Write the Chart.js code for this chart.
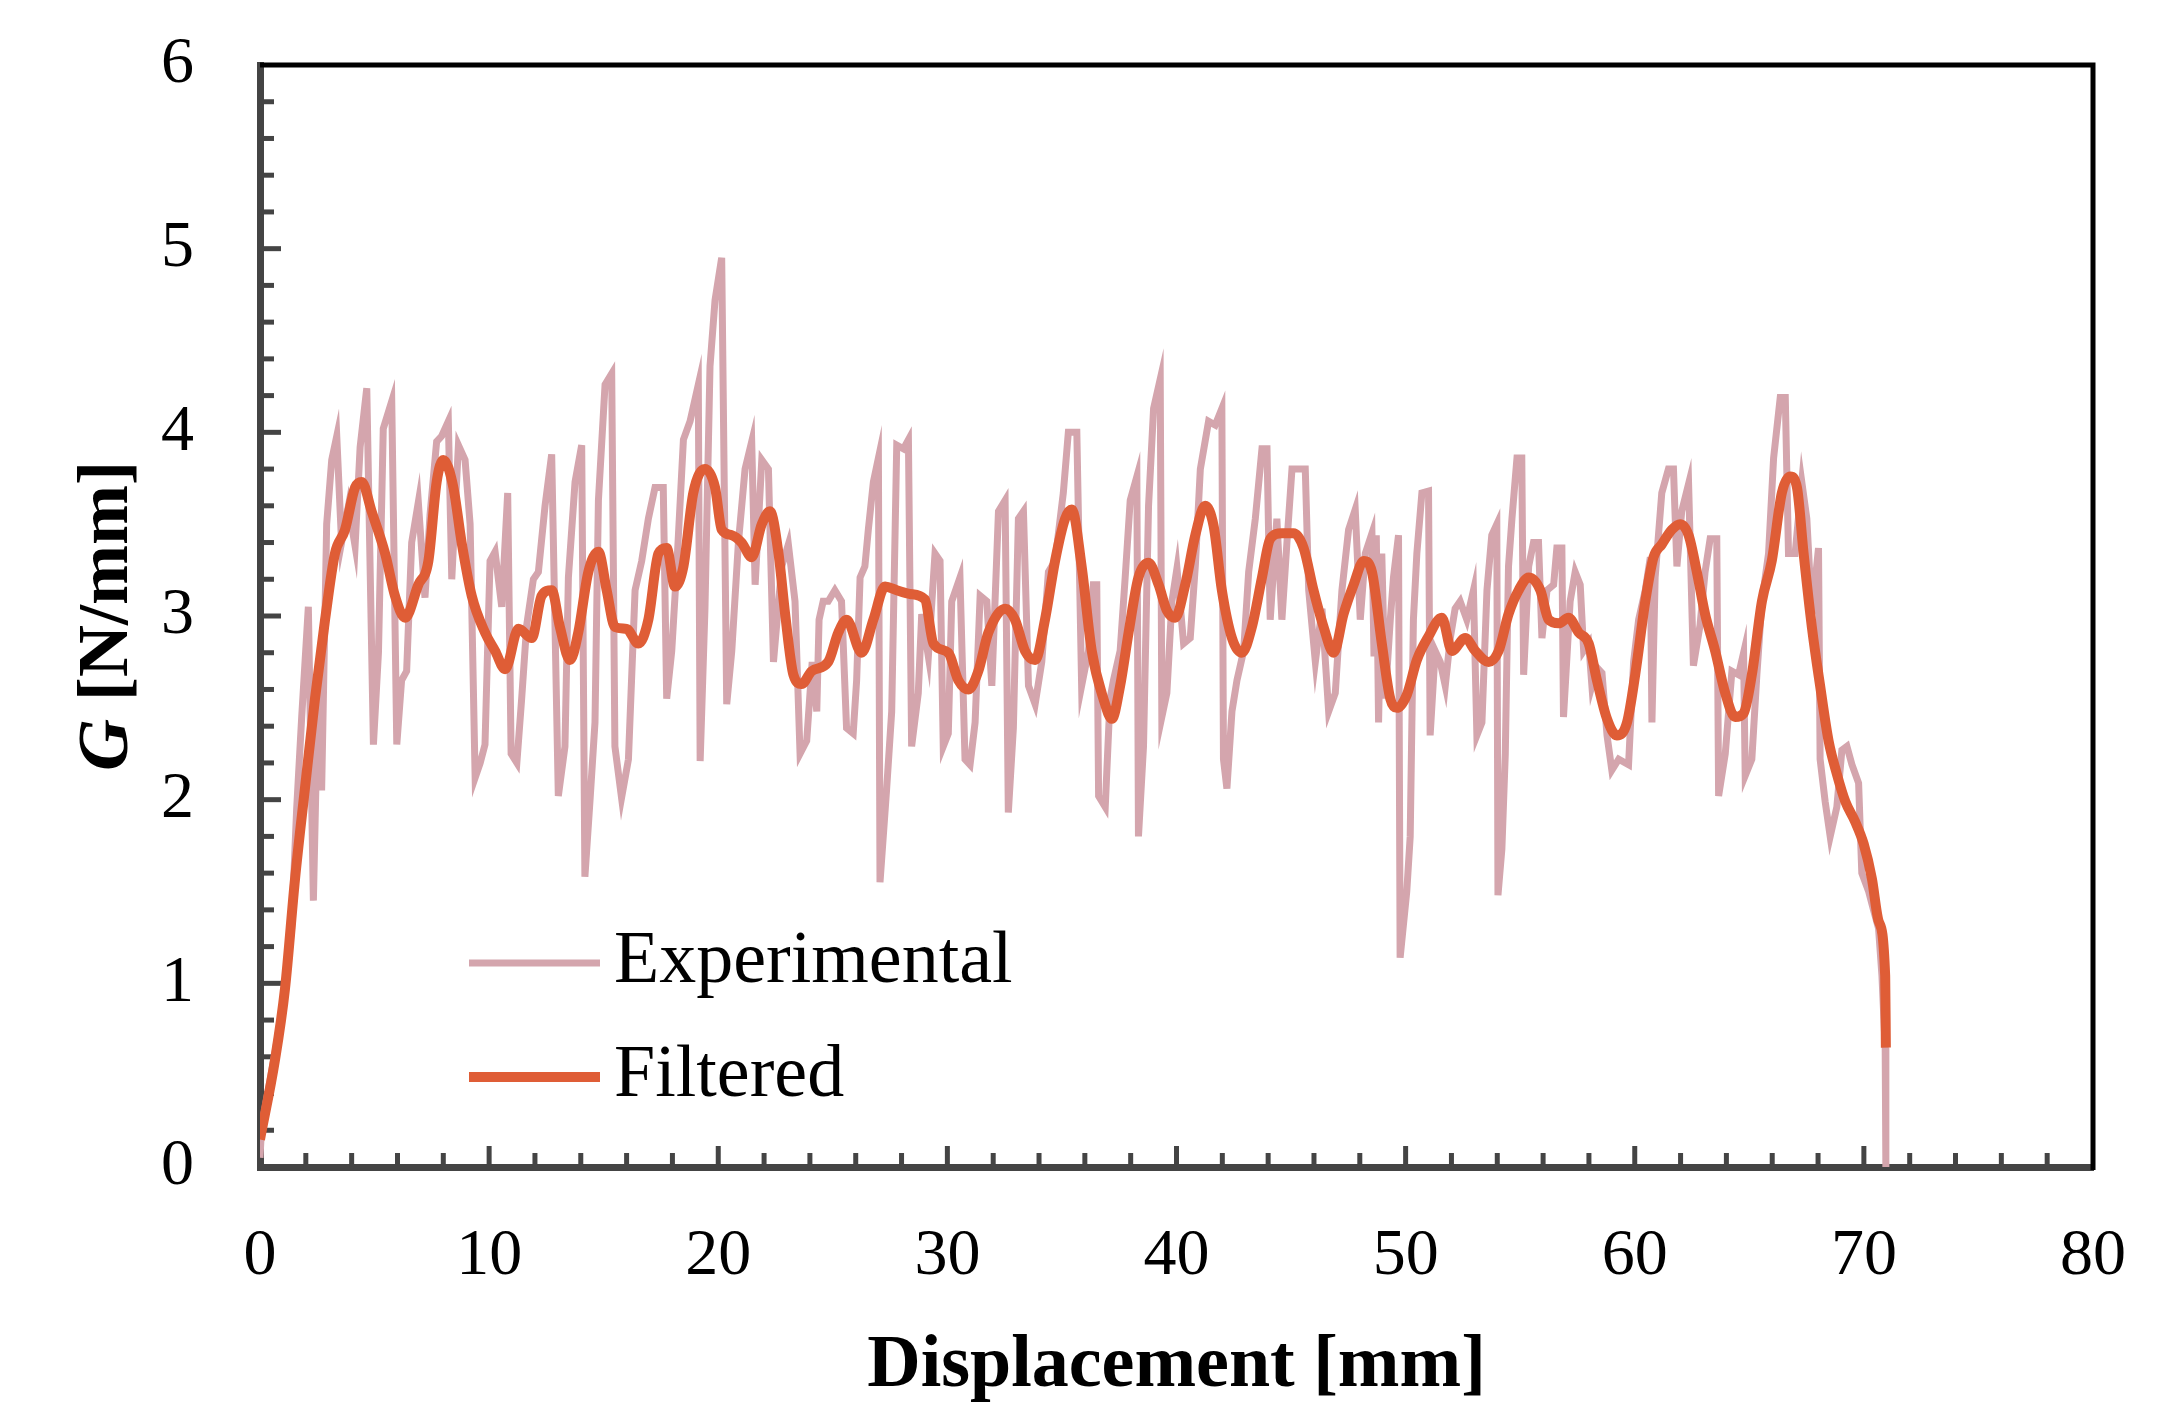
<!DOCTYPE html>
<html><head><meta charset="utf-8">
<script src="https://cdn.jsdelivr.net/npm/chart.js@4.4.1/dist/chart.umd.min.js"></script>
<style>html,body{margin:0;padding:0;background:#fff;} #wrap{width:2178px;height:1404px;}</style>
</head><body><div id="wrap"><canvas id="c" width="2178" height="1404"></canvas></div>
<script>
const xLabel = 'Displacement [mm]';
const yLabelItalic = 'G';
const yLabelRest = ' [N/mm]';
const seriesNames = ['Experimental', 'Filtered'];
const xRange = [0, 80];
const yRange = [0, 6];
const xMajorStep = 10, xMinorStep = 2, yMajorStep = 1, yMinorStep = 0.2;

const expX = [
0.00,0.07,0.65,1.09,1.38,1.60,1.82,2.11,2.33,2.55,2.69,2.91,3.13,3.35,3.56,3.86,4.15,4.37,4.66,4.95,5.17,5.38,5.75,5.97,6.18,6.40,6.62,6.91,7.20,7.42,7.71,7.93,8.22,8.37,8.66,8.95,9.17,9.39,9.61,9.82,10.04,10.26,10.55,10.81,10.96,11.21,11.42,11.64,11.93,
12.15,12.44,12.73,13.02,13.31,13.46,13.75,14.04,14.18,14.40,14.62,14.77,15.06,15.35,15.49,15.78,16.08,16.37,16.66,16.95,17.24,17.60,17.75,17.97,18.19,18.48,18.77,19.13,19.21,19.42,19.64,19.86,20.15,20.37,20.59,20.88,21.17,21.46,21.61,21.90,22.19,22.41,22.77,23.06,23.35,23.57,23.86,24.10,
24.30,24.40,24.58,24.80,25.09,25.38,25.60,25.89,26.04,26.19,26.40,26.55,26.77,26.99,27.06,27.35,27.57,27.79,28.08,28.30,28.44,28.73,28.88,29.17,29.46,29.68,29.82,30.04,30.19,30.55,30.77,30.99,31.21,31.43,31.72,31.94,32.23,32.52,32.66,32.88,33.10,33.32,33.54,33.83,34.12,34.41,34.70,35.06,35.28,35.65,35.86,36.16,36.37,
36.52,36.60,36.89,37.10,37.25,37.54,37.76,37.98,38.27,38.34,38.56,38.78,39.00,39.29,39.36,39.58,39.80,40.02,40.31,40.60,40.82,41.04,41.40,41.69,41.98,42.05,42.20,42.42,42.64,42.93,43.15,43.44,43.73,43.95,44.09,44.38,44.60,44.82,45.04,45.33,45.62,45.77,46.06,46.35,46.64,46.93,47.22,47.51,47.80,48.02,48.24,48.53,48.62,
48.72,48.82,48.96,49.11,49.33,49.47,49.69,49.76,50.05,50.20,50.34,50.49,50.71,51.00,51.07,51.29,51.51,51.73,51.95,52.16,52.38,52.67,52.96,53.11,53.33,53.55,53.76,53.98,54.03,54.20,54.35,54.49,54.64,54.86,55.07,55.15,55.37,55.58,55.80,55.95,56.17,56.46,56.60,56.82,56.89,57.18,57.40,57.62,57.77,57.99,58.13,58.35,58.57,58.79,59.00,59.30,59.73,59.95,60.17,60.46,60.68,60.75,60.89,
61.18,61.47,61.69,61.84,62.05,62.35,62.56,62.85,63.07,63.29,63.58,63.66,63.95,64.24,64.53,64.75,64.82,65.11,65.33,65.55,65.84,66.06,66.35,66.57,66.71,67.00,67.29,67.51,67.73,68.02,68.09,68.31,68.53,68.82,69.04,69.26,69.48,69.77,69.91,70.21,70.42,70.64,70.79,70.93,70.96
];
const expG = [
0.05,0.22,0.62,0.95,1.30,1.95,2.45,3.05,1.45,2.70,2.05,3.50,3.85,3.98,3.40,3.60,3.38,3.92,4.24,2.30,2.80,4.02,4.17,2.30,2.65,2.70,3.40,3.62,3.10,3.55,3.95,3.98,4.06,3.20,3.93,3.85,3.50,2.12,2.20,2.30,3.30,3.35,3.05,3.67,2.25,2.20,2.55,2.95,3.20,
3.24,3.60,3.88,2.02,2.29,3.21,3.73,3.93,1.58,1.99,2.42,3.63,4.26,4.32,2.29,2.01,2.22,3.14,3.30,3.53,3.70,3.70,2.55,2.81,3.27,3.96,4.06,4.26,2.21,3.04,4.36,4.72,4.95,2.52,2.81,3.40,3.80,3.95,3.17,3.85,3.80,2.75,3.27,3.39,3.08,2.25,2.32,2.75,
2.48,2.98,3.08,3.08,3.14,3.08,2.39,2.36,2.65,3.21,3.27,3.47,3.73,3.86,1.55,2.06,2.48,3.93,3.91,3.96,2.29,2.58,3.01,2.78,3.34,3.30,2.29,2.36,3.08,3.21,2.22,2.19,2.42,3.11,3.08,2.62,3.57,3.63,1.93,2.39,3.53,3.57,2.62,2.52,2.75,3.24,3.30,3.67,4.00,4.00,2.62,2.81,3.17,
3.17,2.02,1.96,2.55,2.65,2.81,3.21,3.63,3.76,1.80,2.29,3.60,4.13,4.29,2.45,2.58,3.08,3.26,2.85,2.88,3.27,3.80,4.06,4.04,4.13,2.22,2.06,2.48,2.65,2.81,3.24,3.53,3.91,3.91,2.98,3.53,2.98,3.40,3.80,3.80,3.80,3.14,2.75,3.04,2.48,2.58,3.14,3.47,3.58,2.98,3.34,3.45,2.78,
3.44,2.42,3.34,2.55,2.98,3.21,3.44,1.14,1.50,1.80,2.98,3.34,3.67,3.68,2.35,2.81,2.75,2.62,2.88,3.04,3.08,2.98,3.14,2.35,2.42,3.14,3.44,3.50,1.48,1.73,2.25,3.27,3.53,3.86,3.86,2.68,3.27,3.40,3.40,2.88,3.14,3.17,3.37,3.37,2.45,3.08,3.24,3.17,2.81,2.85,2.62,2.72,2.69,2.35,2.16,2.22,2.19,2.75,2.98,3.14,3.32,2.42,3.21,
3.67,3.80,3.80,3.27,3.57,3.72,2.73,2.95,3.24,3.42,3.42,2.02,2.25,2.70,2.68,2.80,2.13,2.22,2.68,3.08,3.34,3.86,4.19,4.19,3.34,3.34,3.73,3.53,3.01,3.37,2.22,1.99,1.80,1.96,2.27,2.29,2.19,2.09,1.60,1.50,1.40,1.30,1.04,0.65,0.00
];

const filtX = [
0.00,0.65,1.09,1.53,1.96,2.40,2.84,3.27,3.71,4.15,4.44,4.87,5.46,5.89,6.33,6.91,7.35,7.71,8.00,8.44,8.80,9.24,9.82,10.26,10.70,11.28,11.86,
12.29,12.73,13.09,13.53,13.89,14.33,14.77,15.13,15.49,16.00,16.51,16.95,17.39,17.75,18.11,18.48,18.91,19.42,19.86,20.15,20.59,21.02,21.46,21.90,22.26,22.63,22.92,23.28,23.64,24.08,
24.80,25.24,25.60,26.26,26.77,27.28,27.79,28.37,29.02,29.39,30.04,30.48,30.92,31.35,31.79,32.52,32.95,33.39,33.83,34.26,34.70,35.14,35.43,35.86,36.30,
36.81,37.18,37.54,37.91,38.34,38.78,39.22,39.58,39.94,40.38,40.82,41.25,41.62,41.98,42.42,42.85,43.29,43.73,44.09,44.60,45.11,45.55,45.98,46.42,46.86,47.29,47.73,48.17,48.53,
48.96,49.33,49.62,50.05,50.49,50.96,51.58,52.02,52.60,53.04,53.62,54.06,54.49,54.93,55.37,55.88,56.24,56.68,57.11,57.55,57.99,58.35,58.79,59.22,59.66,60.02,60.46,60.82,
61.18,61.62,61.98,62.35,62.71,63.07,63.51,63.95,64.38,64.75,65.11,65.55,65.98,66.42,66.79,67.08,67.37,67.73,68.09,68.46,68.82,69.19,69.62,69.99,70.35,70.64,70.93,70.96
];
const filtG = [
0.15,0.58,0.97,1.57,2.06,2.55,2.98,3.34,3.47,3.70,3.73,3.57,3.34,3.11,2.99,3.17,3.30,3.73,3.85,3.70,3.40,3.11,2.91,2.81,2.71,2.93,2.88,
3.11,3.14,2.94,2.76,2.91,3.24,3.35,3.14,2.94,2.93,2.85,2.98,3.34,3.37,3.16,3.27,3.67,3.80,3.70,3.47,3.44,3.40,3.32,3.50,3.57,3.34,3.01,2.68,2.63,2.70,
2.75,2.91,2.98,2.80,2.98,3.16,3.14,3.12,3.09,2.85,2.80,2.65,2.60,2.70,2.91,3.04,2.98,2.81,2.76,2.98,3.30,3.53,3.58,3.27,2.81,
2.55,2.44,2.62,2.91,3.21,3.29,3.17,3.03,2.99,3.17,3.44,3.60,3.49,3.14,2.88,2.80,2.94,3.21,3.42,3.45,3.45,3.37,3.14,2.94,2.80,3.01,3.17,3.30,3.24,
2.85,2.55,2.50,2.57,2.76,2.88,2.99,2.81,2.88,2.81,2.75,2.81,3.01,3.14,3.21,3.14,2.98,2.96,2.99,2.91,2.85,2.65,2.44,2.35,2.42,2.68,3.08,3.32,
3.39,3.47,3.50,3.44,3.24,3.01,2.81,2.58,2.45,2.47,2.68,3.08,3.30,3.67,3.76,3.70,3.34,2.94,2.62,2.32,2.14,1.99,1.88,1.76,1.57,1.34,1.04,0.65
];

const seriesColors = ['#D4A5AD', '#DF5D36'];
const seriesWidths = [7, 10];

const FONT = '"Liberation Serif", "Times New Roman", serif';

function zip(xs, ys) { return xs.map((x, i) => ({x: x, y: ys[i]})); }

const framePlugin = {
  id: 'frameTicks',
  beforeDatasetsDraw(chart) {
    const {ctx, chartArea: a, scales: {x, y}} = chart;
    ctx.save();
    ctx.strokeStyle = '#444';
    ctx.lineWidth = 5;
    ctx.lineCap = 'butt';
    const nx = Math.round((xRange[1] - xRange[0]) / xMinorStep);
    const perMajX = Math.round(xMajorStep / xMinorStep);
    for (let i = 1; i < nx; i++) {
      const px = x.getPixelForValue(xRange[0] + i * xMinorStep);
      const len = (i % perMajX === 0) ? 21 : 14;
      ctx.beginPath(); ctx.moveTo(px, a.bottom); ctx.lineTo(px, a.bottom - len); ctx.stroke();
    }
    const ny = Math.round((yRange[1] - yRange[0]) / yMinorStep);
    const perMajY = Math.round(yMajorStep / yMinorStep);
    for (let i = 1; i < ny; i++) {
      const py = y.getPixelForValue(yRange[0] + i * yMinorStep);
      const len = (i % perMajY === 0) ? 21 : 14;
      ctx.beginPath(); ctx.moveTo(a.left, py); ctx.lineTo(a.left + len, py); ctx.stroke();
    }
    ctx.strokeStyle = '#000';
    ctx.lineWidth = 5;
    ctx.beginPath();
    ctx.moveTo(a.left, a.top); ctx.lineTo(a.right, a.top); ctx.lineTo(a.right, a.bottom + 3);
    ctx.stroke();
    ctx.restore();
  },
  afterDraw(chart) {
    const {ctx, chartArea: a} = chart;
    ctx.save();
    // legend
    const ds = chart.data.datasets;
    const legX0 = a.left + 209, legX1 = a.left + 340, legTextX = a.left + 354;
    const legY = [a.top + 898, a.top + 1012];
    ds.forEach((d, i) => {
      ctx.strokeStyle = d.borderColor;
      ctx.lineWidth = d.borderWidth;
      ctx.beginPath(); ctx.moveTo(legX0, legY[i]); ctx.lineTo(legX1, legY[i]); ctx.stroke();
      ctx.fillStyle = '#000';
      ctx.font = '74px ' + FONT;
      ctx.textAlign = 'left';
      ctx.textBaseline = 'middle';
      ctx.fillText(d.label, legTextX, legY[i]);
    });
    // y title
    const cy = (a.top + a.bottom) / 2;
    ctx.translate(108, cy);
    ctx.rotate(-Math.PI / 2);
    ctx.fillStyle = '#000';
    ctx.textBaseline = 'middle';
    ctx.textAlign = 'left';
    const f1 = 'italic bold 72px ' + FONT, f2 = 'bold 72px ' + FONT;
    ctx.font = f1; const w1 = ctx.measureText(yLabelItalic).width;
    ctx.font = f2; const w2 = ctx.measureText(yLabelRest).width;
    const sx = -(w1 + w2) / 2;
    ctx.font = f1; ctx.fillText(yLabelItalic, sx, 0);
    ctx.font = f2; ctx.fillText(yLabelRest, sx + w1, 0);
    ctx.restore();
  }
};

new Chart(document.getElementById('c'), {
  type: 'line',
  data: {
    datasets: [
      { label: seriesNames[0], data: zip(expX, expG), borderColor: seriesColors[0], borderWidth: seriesWidths[0],
        pointRadius: 0, tension: 0, fill: false, order: 1, borderJoinStyle: 'miter' },
      { label: seriesNames[1], data: zip(filtX, filtG), borderColor: seriesColors[1], borderWidth: seriesWidths[1],
        pointRadius: 0, cubicInterpolationMode: 'monotone', fill: false, order: 0 }
    ]
  },
  options: {
    responsive: false,
    animation: false,
    devicePixelRatio: 1,
    layout: { padding: { top: 65, right: 85, left: 0, bottom: 0 } },
    plugins: { legend: { display: false }, tooltip: { enabled: false } },
    scales: {
      x: {
        type: 'linear', min: xRange[0], max: xRange[1],
        grid: { display: false, drawTicks: false },
        border: { display: true, color: '#444', width: 7 },
        ticks: { stepSize: xMajorStep, autoSkip: false, maxRotation: 0, padding: 50, color: '#000',
                 font: { family: FONT, size: 66 } },
        title: { display: true, text: xLabel, color: '#000', font: { family: FONT, size: 74, weight: 'bold' },
                 padding: { top: 0, bottom: -7 } },
        afterFit(s) { s.height = 237; }
      },
      y: {
        type: 'linear', min: yRange[0], max: yRange[1],
        grid: { display: false, drawTicks: false },
        border: { display: true, color: '#444', width: 7 },
        ticks: { stepSize: yMajorStep, padding: 66, color: '#000', font: { family: FONT, size: 66 } },
        afterFit(s) { s.width = 260; s.paddingTop = 0; s.paddingBottom = 0; }
      }
    }
  },
  plugins: [framePlugin]
});
</script>
</body></html>
